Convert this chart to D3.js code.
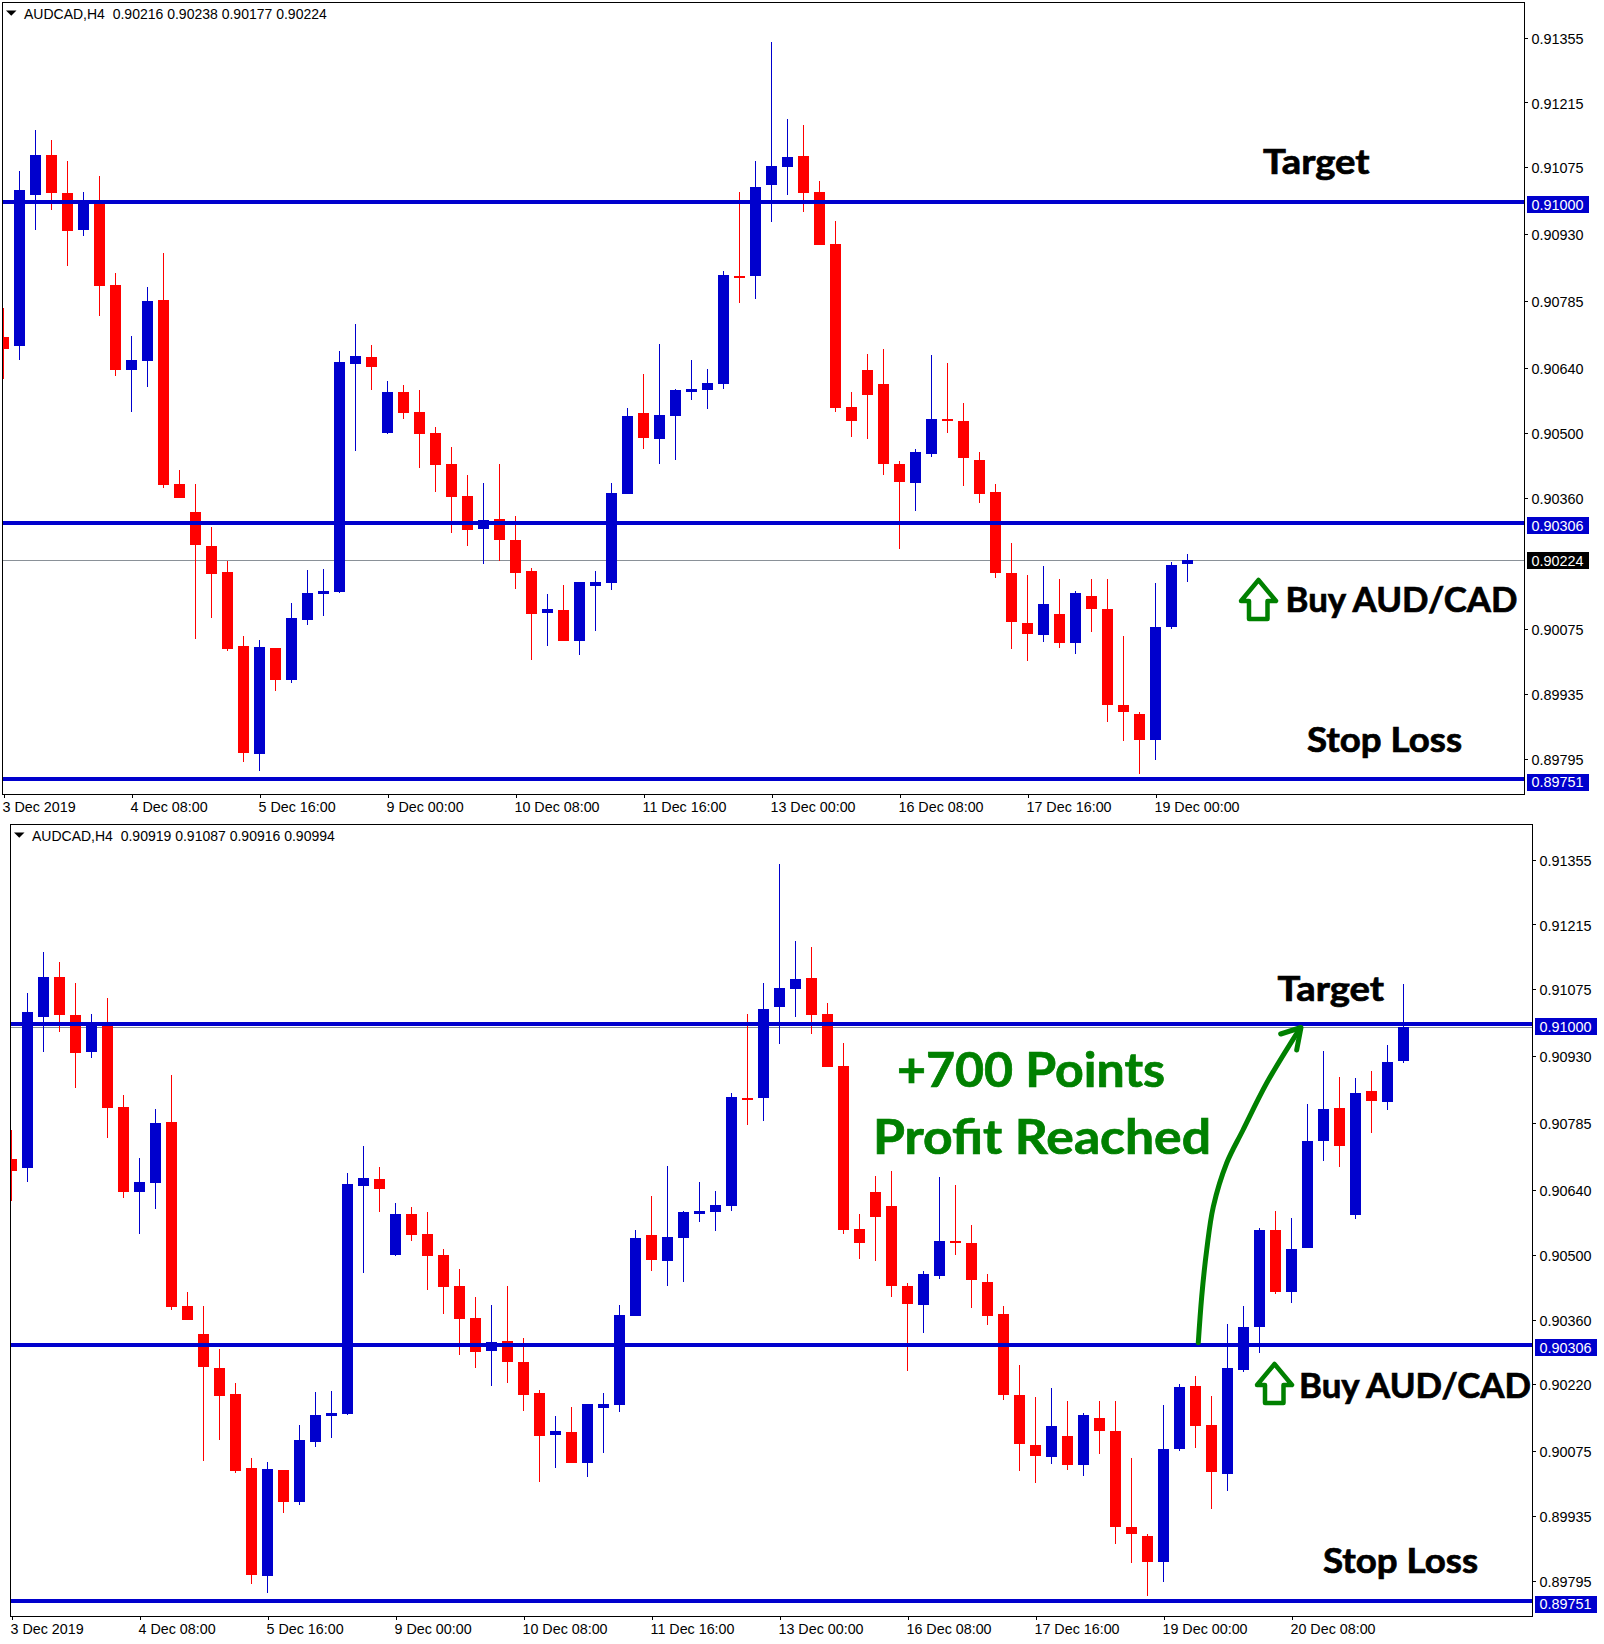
<!DOCTYPE html>
<html>
<head>
<meta charset="utf-8">
<script src="https://cdn.jsdelivr.net/npm/d3@7/dist/d3.min.js"></script>
<style>
html,body{margin:0;padding:0;background:#fff;}
svg{display:block;}
text{font-family:"Liberation Sans",Arial,sans-serif;fill:#000;}
.note{font-family:Lato,"Open Sans",sans-serif;font-weight:700;}
.hdr{white-space:pre;}
</style>
</head>
<body>
<script>
const symbolLabel = "AUDCAD,H4";
const barOpen = [
0.90708,0.90687,0.91015,0.91102,0.91019,0.90938,0.91002,0.90820,0.90636,0.90656,
0.90788,0.90390,0.90329,0.90255,0.90199,0.90039,0.89805,0.90035,0.89965,0.90095,
0.90152,0.90156,0.90649,0.90664,0.90500,0.90589,0.90545,0.90500,0.90433,0.90364,
0.90292,0.90314,0.90268,0.90201,0.90110,0.90117,0.90050,0.90169,0.90175,0.90368,
0.90543,0.90487,0.90537,0.90589,0.90593,0.90606,0.90840,0.90840,0.91037,0.91076,
0.91099,0.91022,0.90909,0.90556,0.90636,0.90606,0.90433,0.90392,0.90455,0.90530,
0.90526,0.90442,0.90372,0.90197,0.90089,0.90063,0.90108,0.90046,0.90147,0.90119,
0.89911,0.89892,0.89836,0.90080,0.90217,0.90132,0.90026,0.90251,0.90344,0.90554,
0.90420,0.90514,0.90747,0.90818,0.90587,0.90855,0.90831,0.90919];
const barHigh = [
0.90770,0.91067,0.91156,0.91134,0.91089,0.91022,0.91056,0.90846,0.90710,0.90816,
0.90890,0.90420,0.90390,0.90297,0.90222,0.90061,0.90052,0.90035,0.90132,0.90204,
0.90206,0.90677,0.90736,0.90690,0.90613,0.90604,0.90593,0.90513,0.90470,0.90409,
0.90392,0.90433,0.90320,0.90208,0.90152,0.90171,0.90178,0.90201,0.90392,0.90554,
0.90628,0.90693,0.90595,0.90658,0.90638,0.90851,0.91022,0.91089,0.91346,0.91179,
0.91166,0.91045,0.90959,0.90589,0.90671,0.90682,0.90439,0.90465,0.90669,0.90651,
0.90565,0.90459,0.90390,0.90262,0.90193,0.90212,0.90184,0.90158,0.90184,0.90184,
0.90061,0.89896,0.90175,0.90221,0.90238,0.90195,0.90351,0.90390,0.90558,0.90595,
0.90580,0.90827,0.90941,0.90885,0.90883,0.90898,0.90954,0.91087];
const barLow = [
0.90617,0.90658,0.90938,0.90983,0.90861,0.90926,0.90753,0.90623,0.90546,0.90600,
0.90381,0.90359,0.90054,0.90100,0.90028,0.89788,0.89769,0.89942,0.89959,0.90084,
0.90104,0.90154,0.90461,0.90593,0.90498,0.90530,0.90424,0.90372,0.90284,0.90255,
0.90217,0.90223,0.90162,0.90009,0.90039,0.90050,0.90020,0.90072,0.90160,0.90368,
0.90465,0.90433,0.90442,0.90571,0.90552,0.90595,0.90781,0.90790,0.90957,0.91015,
0.90978,0.90907,0.90545,0.90491,0.90487,0.90409,0.90249,0.90331,0.90448,0.90500,
0.90385,0.90349,0.90186,0.90033,0.90007,0.90048,0.90035,0.90022,0.90069,0.89875,
0.89833,0.89762,0.89792,0.90076,0.90082,0.89950,0.89989,0.90247,0.90288,0.90416,
0.90396,0.90514,0.90703,0.90690,0.90578,0.90764,0.90814,0.90916];
const barClose = [
0.90682,0.91026,0.91102,0.91020,0.90936,0.91002,0.90818,0.90636,0.90658,0.90786,
0.90387,0.90359,0.90258,0.90195,0.90033,0.89808,0.90037,0.89965,0.90100,0.90154,
0.90158,0.90654,0.90667,0.90643,0.90589,0.90543,0.90498,0.90431,0.90361,0.90290,
0.90312,0.90268,0.90197,0.90108,0.90119,0.90050,0.90178,0.90178,0.90370,0.90537,
0.90489,0.90539,0.90593,0.90595,0.90608,0.90842,0.90835,0.91032,0.91078,0.91097,
0.91019,0.90907,0.90554,0.90526,0.90582,0.90433,0.90394,0.90459,0.90530,0.90526,
0.90446,0.90368,0.90197,0.90091,0.90065,0.90130,0.90046,0.90154,0.90119,0.89911,
0.89896,0.89836,0.90080,0.90214,0.90130,0.90030,0.90255,0.90344,0.90554,0.90420,
0.90513,0.90747,0.90816,0.90736,0.90851,0.90833,0.90918,0.90994];
// OHLC of the still-forming bar 74 in the upper chart (from its header)
const upperLiveBar = [0.90216,0.90238,0.90177,0.90224];
const upperBarCount = 74;
const dateTickBars = [0,8,16,24,32,40,48,56,64,72,80];
const dateTickLabels = ["3 Dec 2019","4 Dec 08:00","5 Dec 16:00","9 Dec 00:00","10 Dec 08:00","11 Dec 16:00","13 Dec 00:00","16 Dec 08:00","17 Dec 16:00","19 Dec 00:00","20 Dec 08:00"];
const upperPriceTicks = [0.91355,0.91215,0.91075,0.90930,0.90785,0.90640,0.90500,0.90360,0.90075,0.89935,0.89795];
const lowerPriceTicks = [0.91355,0.91215,0.91075,0.90930,0.90785,0.90640,0.90500,0.90360,0.90220,0.90075,0.89935,0.89795];
const levelPrices = [0.91000,0.90306,0.89751];

const BLUE="#0000CD", RED="#FF0000", GREEN="#008000";
const svg=d3.select("body").append("svg").attr("width",1604).attr("height",1644);

const allBars=barOpen.map((o,i)=>({i,o,h:barHigh[i],l:barLow[i],c:barClose[i]}));
const pf=d3.format(".5f");

function panel(id,dx,dy,bars,priceTicks,dateCount,header,lastPrice,showLastTag){
  const left=2.5+dx, top=2.5+dy, w=1522, h=792;
  const x=d3.scaleLinear().domain([0,1]).range([3.5+dx,19.5+dx]);
  const y=d3.scaleLinear().domain([0.91,0.89751]).range([201.8+dy,779+dy]);
  const g=svg.append("g");
  g.append("clipPath").attr("id",id).append("rect").attr("x",left).attr("y",top).attr("width",w).attr("height",h);
  const plot=g.append("g").attr("clip-path",`url(#${id})`);

  const lastY=Math.round(y(lastPrice))+0.5;
  plot.append("line").attr("x1",left).attr("x2",left+w).attr("y1",lastY).attr("y2",lastY)
    .attr("stroke","#8a9198").attr("stroke-width",1).attr("shape-rendering","crispEdges");

  const c=plot.selectAll("g.bar").data(bars).join("g").attr("class","bar").attr("shape-rendering","crispEdges");
  const col=d=>d.c>=d.o?BLUE:RED;
  c.append("line").attr("x1",d=>x(d.i)).attr("x2",d=>x(d.i)).attr("y1",d=>y(d.h)).attr("y2",d=>y(d.l))
    .attr("stroke",col).attr("stroke-width",1);
  c.append("rect").attr("x",d=>x(d.i)-5.5).attr("width",11)
    .attr("y",d=>y(Math.max(d.o,d.c))).attr("height",d=>Math.max(2,Math.abs(y(d.o)-y(d.c)))).attr("fill",col);

  plot.selectAll("line.level").data(levelPrices).join("line").attr("class","level")
    .attr("x1",left).attr("x2",left+w).attr("y1",d=>y(d)).attr("y2",d=>y(d))
    .attr("stroke",BLUE).attr("stroke-width",4).attr("shape-rendering","crispEdges");

  g.append("rect").attr("x",left).attr("y",top).attr("width",w).attr("height",h)
    .attr("fill","none").attr("stroke","#000").attr("stroke-width",1).attr("shape-rendering","crispEdges");

  // price axis
  const ay=g.append("g").attr("transform",`translate(${left+w},0)`)
    .call(d3.axisRight(y).tickValues(priceTicks).tickFormat(pf).tickSize(3).tickPadding(4));
  ay.select(".domain").remove();
  ay.selectAll("line").attr("stroke","#000").attr("shape-rendering","crispEdges");
  ay.selectAll("text").attr("font-size",14.4).attr("fill","#000").attr("dy","0.39em").style("font-family",'"Liberation Sans",Arial,sans-serif');

  // date axis
  const ticks=dateTickBars.slice(0,dateCount);
  const ax=g.append("g").attr("transform",`translate(0,${top+h})`)
    .call(d3.axisBottom(x).tickValues(ticks).tickFormat(d=>dateTickLabels[dateTickBars.indexOf(d)]).tickSize(3).tickPadding(0));
  ax.select(".domain").remove();
  ax.selectAll("line").attr("stroke","#000").attr("shape-rendering","crispEdges");
  ax.selectAll("text").attr("font-size",14.3).attr("fill","#000").attr("text-anchor","start")
    .attr("x",-1.5).attr("y",17).attr("dy",0).style("font-family",'"Liberation Sans",Arial,sans-serif');

  // level tags
  const tagX=left+w+2;
  levelPrices.forEach(p=>{
    g.append("rect").attr("x",tagX).attr("y",y(p)-5.5).attr("width",62).attr("height",17).attr("fill",BLUE).attr("shape-rendering","crispEdges");
    g.append("text").attr("x",tagX+5).attr("y",y(p)+8).attr("font-size",14.4).style("fill","#fff").text(pf(p));
  });
  if(showLastTag){
    const p=lastPrice;
    g.append("rect").attr("x",tagX).attr("y",y(p)-8).attr("width",62).attr("height",17).attr("fill","#000").attr("shape-rendering","crispEdges");
    g.append("text").attr("x",tagX+5).attr("y",y(p)+6).attr("font-size",14.4).style("fill","#fff").text(pf(p));
  }

  // header
  g.append("path").attr("d",`M${6+dx},${10.5+dy}h10.5l-5.25,5.2z`).attr("fill","#000");
  g.append("text").attr("class","hdr").attr("x",24+dx).attr("y",19+dy).attr("font-size",14).text(header);
}

const upperBars=allBars.slice(0,upperBarCount).concat([{i:upperBarCount,o:upperLiveBar[0],h:upperLiveBar[1],l:upperLiveBar[2],c:upperLiveBar[3]}]);
const last=barClose.length-1;
panel("clipA",0,0,upperBars,upperPriceTicks,10,
  `${symbolLabel}  ${upperLiveBar.map(pf).join(" ")}`,upperLiveBar[3],true);
panel("clipB",8,822,allBars,lowerPriceTicks,11,
  `${symbolLabel}  ${[barOpen[last],barHigh[last],barLow[last],barClose[last]].map(pf).join(" ")}`,barClose[last],false);

// annotations
function note(str,x,y,size,len,fill){
  const f=fill||"#000";
  svg.append("text").attr("class","note").attr("x",x).attr("y",y).attr("font-size",size)
    .attr("textLength",len).attr("lengthAdjust","spacingAndGlyphs")
    .style("fill",f).style("stroke",f).style("stroke-width",0.7).text(str);
}
note("Target",1263,174,35,106.5);
note("Buy AUD/CAD",1285.5,612,35,232);
note("Stop Loss",1307,751.5,35,155);
note("Target",1277.5,1001,35,106.5);
note("Buy AUD/CAD",1299,1397.5,35,232);
note("Stop Loss",1323,1572.5,35,155);
note("+700 Points",897,1086.5,48,268,GREEN);
note("Profit Reached",873,1154,48,338,GREEN);

function upArrow(tx,ty){
  const p=[[0,0],[17.5,21],[9,21],[9,39],[-9.5,39],[-9.5,21],[-17.5,21]];
  svg.append("path").attr("d",d3.line()(p.map(q=>[tx+q[0],ty+q[1]]))+"Z")
    .attr("fill","none").attr("stroke",GREEN).attr("stroke-width",4.5).attr("stroke-linejoin","round");
}
upArrow(1258.5,580);
upArrow(1274.5,1364);

const curve=[[1198.3,1342.7],[1201.7,1296.7],[1206.7,1250],[1213.3,1206.7],[1226.7,1163],[1243,1130],[1266.7,1083],[1300,1028.3]];
svg.append("path").attr("d",d3.line().curve(d3.curveCatmullRom)(curve))
  .attr("fill","none").attr("stroke",GREEN).attr("stroke-width",5).attr("stroke-linecap","round");
svg.append("path").attr("d",d3.line()([[1280.7,1034],[1301,1027.5],[1296.7,1050]]))
  .attr("fill","none").attr("stroke",GREEN).attr("stroke-width",5).attr("stroke-linecap","round").attr("stroke-linejoin","round");
</script>
</body>
</html>
